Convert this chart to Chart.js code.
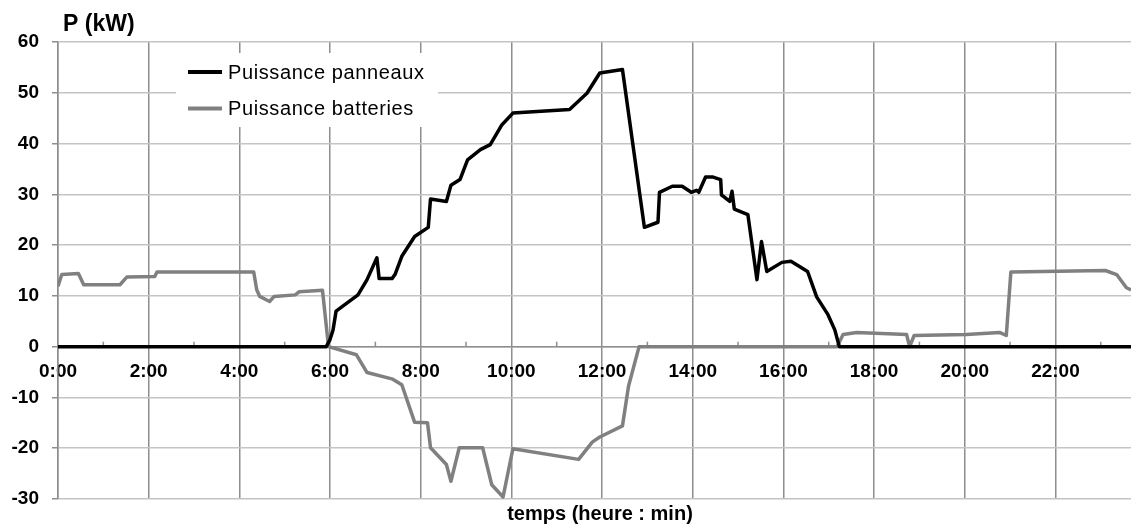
<!DOCTYPE html>
<html>
<head>
    <meta charset="utf-8">
    <script src="https://cdn.jsdelivr.net/npm/chart.js@4/dist/chart.umd.min.js"></script>
    <style>
        body {
            margin: 0;
            background: #fff;
        }
    </style>
</head>

<body>
    <canvas id="chart" width="1131" height="527"></canvas>
    <script>
        // heures (h:mm) et puissances en kW
        const panneauxTemps = ['0:00', '5:55', '6:00', '6:04', '6:08', '6:37', '6:49', '7:02', '7:05', '7:22',
            '7:26', '7:35', '7:52', '8:10', '8:13', '8:34', '8:40', '8:52', '9:02', '9:19', '9:32', '9:47',
            '10:02', '11:17', '11:40', '11:57', '12:27', '12:56', '13:14', '13:16', '13:33', '13:46', '13:58',
            '14:05', '14:08', '14:17', '14:27', '14:37', '14:38', '14:49', '14:52', '14:55', '15:13', '15:25',
            '15:31', '15:38', '15:58', '16:10', '16:32', '16:44', '16:59', '17:08', '17:14', '23:40'];
        const panneauxKW = [0, 0, 1.4, 3.3, 7.0, 10.2, 13.2, 17.5, 13.4, 13.4,
            14.2, 17.8, 21.7, 23.5, 29.1, 28.6, 31.8, 32.9, 36.8, 38.8, 39.8, 43.6,
            46.0, 46.7, 49.9, 53.9, 54.6, 23.5, 24.5, 30.4, 31.6, 31.6, 30.4,
            30.8, 30.4, 33.4, 33.4, 32.9, 29.9, 28.6, 30.6, 27.1, 26.0, 13.2,
            20.7, 14.8, 16.6, 16.8, 14.8, 9.8, 6.3, 3.3, 0, 0];

        const batteriesTemps = ['0:00', '0:05', '0:27', '0:34', '1:22', '1:31', '2:08', '2:11', '4:19', '4:23',
            '4:27', '4:40', '4:46', '5:14', '5:19', '5:50', '5:58', '6:35', '6:49', '7:23', '7:35', '7:52',
            '8:09', '8:13', '8:34', '8:40', '8:51', '9:22', '9:34', '9:49', '10:02', '11:29', '11:47', '11:57',
            '12:27', '12:35', '12:49', '17:11', '17:19', '17:37', '18:43', '18:47', '18:53', '20:02', '20:46',
            '20:55', '21:01', '23:06', '23:21', '23:34', '23:40'];
        const batteriesKW = [11.9, 14.2, 14.4, 12.2, 12.2, 13.7, 13.8, 14.7, 14.7, 11.2,
            9.9, 8.9, 9.9, 10.2, 10.8, 11.1, 0, -1.6, -5.1, -6.4, -7.5, -14.9,
            -15.0, -19.9, -23.2, -26.5, -19.9, -19.9, -27.2, -29.6, -20.1, -22.2, -18.8, -17.8,
            -15.6, -7.8, 0, 0, 2.4, 2.8, 2.4, 0, 2.2, 2.4, 2.8,
            2.2, 14.7, 15.0, 14.2, 11.6, 11.2];

        const yMin = -30, yMax = 60;
        const xMax = 23 + 40 / 60;

        const police = '"Liberation Sans", Arial, sans-serif';
        const grisVertical = '#8e8e8e';
        const grisHorizontal = '#c4c4c4';

        function enHeures(t) {
            const p = t.split(':');
            return Number(p[0]) + Number(p[1]) / 60;
        }

        function points(temps, valeurs) {
            return temps.map((t, i) => ({ x: enHeures(t), y: valeurs[i] }));
        }

        // légende, titres et petites graduations horaires
        const decor = {
            id: 'decor',
            beforeDatasetsDraw(chart) {
                const ctx = chart.ctx;
                const x = chart.scales.x, y = chart.scales.y;
                const a = chart.chartArea;
                ctx.save();

                // graduations secondaires (heures impaires) au-dessus de l'axe
                ctx.strokeStyle = grisVertical;
                ctx.lineWidth = 1.5;
                const y0 = y.getPixelForValue(0);
                for (let h = 1; h < xMax; h += 2) {
                    const px = x.getPixelForValue(h);
                    ctx.beginPath();
                    ctx.moveTo(px, y0);
                    ctx.lineTo(px, y0 - 5);
                    ctx.stroke();
                }

                // cadre de la légende
                const lx = a.left + 118, ly = a.top + 11;
                ctx.fillStyle = '#fff';
                ctx.fillRect(lx, ly, 262, 74);

                ctx.font = '20px ' + police;
                ctx.letterSpacing = '0.6px';
                ctx.textBaseline = 'middle';
                chart.data.datasets.forEach((ds, i) => {
                    const yy = ly + 19 + i * 36.5;
                    ctx.strokeStyle = ds.borderColor;
                    ctx.lineWidth = 4;
                    ctx.beginPath();
                    ctx.moveTo(lx + 12, yy);
                    ctx.lineTo(lx + 46, yy);
                    ctx.stroke();
                    ctx.fillStyle = '#000';
                    ctx.fillText(ds.label, lx + 52, yy + 1);
                });
                ctx.restore();
            },
            afterDraw(chart) {
                const ctx = chart.ctx;
                const a = chart.chartArea;
                ctx.save();
                ctx.fillStyle = '#000';
                ctx.textBaseline = 'alphabetic';
                ctx.font = 'bold 23px ' + police;
                ctx.fillText('P (kW)', a.left + 5, 31);
                ctx.font = 'bold 20px ' + police;
                ctx.textAlign = 'center';
                ctx.fillText('temps (heure : min)', 600, 520);
                ctx.restore();
            }
        };

        new Chart(document.getElementById('chart'), {
            type: 'line',
            data: {
                datasets: [
                    {
                        label: 'Puissance panneaux',
                        data: points(panneauxTemps, panneauxKW),
                        borderColor: '#000000',
                        borderWidth: 3.5,
                        pointRadius: 0,
                        tension: 0,
                        borderJoinStyle: 'round'
                    },
                    {
                        label: 'Puissance batteries',
                        data: points(batteriesTemps, batteriesKW),
                        borderColor: '#808080',
                        borderWidth: 3.5,
                        pointRadius: 0,
                        tension: 0,
                        borderJoinStyle: 'round'
                    }
                ]
            },
            options: {
                responsive: false,
                animation: false,
                layout: { padding: { top: 42, bottom: 28, left: 0, right: 0 } },
                plugins: {
                    legend: { display: false },
                    tooltip: { enabled: false }
                },
                scales: {
                    x: {
                        type: 'linear',
                        position: { y: 0 },
                        min: 0,
                        max: xMax,
                        ticks: {
                            stepSize: 1,
                            includeBounds: false,
                            maxRotation: 0,
                            autoSkip: false,
                            padding: 14,
                            color: '#000',
                            font: { family: police, size: 19, weight: 'bold' },
                            callback: v => (v % 2 === 0 ? v + ':00' : '')
                        },
                        grid: {
                            drawTicks: false,
                            lineWidth: 1.5,
                            color: c => (c.tick && c.tick.value % 2 === 0 ? grisVertical : 'rgba(0,0,0,0)')
                        },
                        border: { color: grisVertical, width: 1.5 }
                    },
                    y: {
                        min: yMin,
                        max: yMax,
                        afterFit: s => { s.width = 58; },
                        ticks: {
                            stepSize: 5,
                            padding: 13,
                            color: '#000',
                            font: { family: police, size: 19, weight: 'bold' },
                            callback: v => (v % 10 === 0 ? v : '')
                        },
                        grid: {
                            lineWidth: 1.5,
                            tickLength: 6,
                            color: grisHorizontal,
                            tickColor: c => (c.tick && c.tick.value % 10 === 0 ? grisVertical : 'rgba(0,0,0,0)')
                        },
                        border: { color: grisVertical, width: 1.5 }
                    }
                }
            },
            plugins: [decor]
        });
    </script>
</body>
</html>
